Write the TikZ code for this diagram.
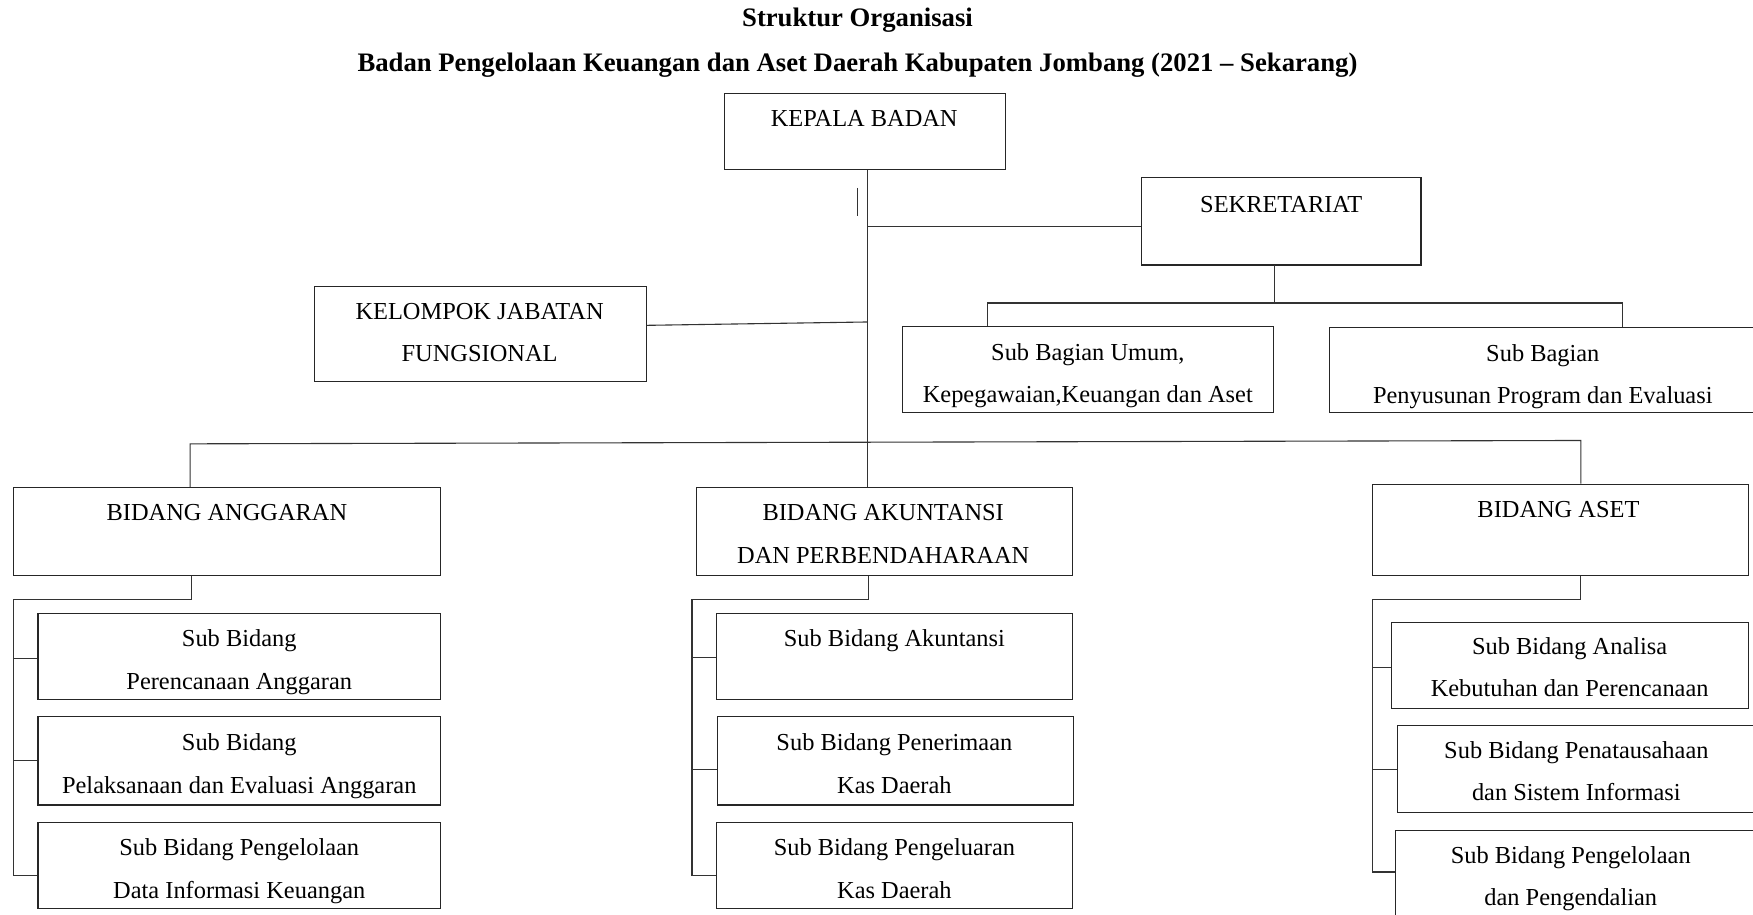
\documentclass[tikz,border=0pt]{standalone}
\usepackage{fontspec}
\setmainfont{Liberation Serif}
\newcommand\mkbox[5]{\node[box, minimum width={(#4-#2)*1.118pt}, minimum height={(#5-#3)*1.118pt}] (#1) at ({(#2+#4)/2},{(#3+#5)/2}) {};}
\tikzset{
  box/.style={draw=black!85, line width=1.1pt, inner sep=0pt, fill=none},
  txt/.style={font=\fontsize{24.4}{42.5}\selectfont, align=center, anchor=north, inner sep=0pt},
  ttl/.style={font=\fontsize{26.7}{30}\selectfont\bfseries, anchor=center, inner sep=0pt},
  ln/.style={draw=black!80, line width=1.1pt}
}
\begin{document}
\begin{tikzpicture}[x=1.118pt,y=-1.118pt]
\useasboundingbox[fill=white] (0,0) rectangle (1568,818);
% titles
\node[ttl] (t1) at (767,18) {Struktur Organisasi};
\node[ttl] (t2) at (767,58) {Badan Pengelolaan Keuangan dan Aset Daerah Kabupaten Jombang (2021 – Sekarang)};
% boxes
\mkbox{kepala}{648}{84}{899}{152}
\mkbox{sek}{1021}{159}{1271}{237}
\mkbox{kjf}{281}{256}{578}{341}
\mkbox{sbu}{807}{292}{1139}{369}
\mkbox{sbp}{1189}{293}{1571}{369}
\mkbox{ang}{12}{436}{394}{515}
\mkbox{ak}{623}{436}{959}{515}
\mkbox{aset}{1228}{433}{1564}{515}
\mkbox{a1}{34}{549}{394}{626}
\mkbox{a2}{34}{641}{394}{720}
\mkbox{a3}{34}{736}{394}{813}
\mkbox{k1}{641}{549}{959}{626}
\mkbox{k2}{642}{641}{960}{720}
\mkbox{k3}{641}{736}{959}{813}
\mkbox{s1}{1245}{557}{1564}{634}
\mkbox{s2}{1250}{649}{1571}{727}
\mkbox{s3}{1248}{743}{1571}{830}
% texts
\node[txt] (kepala-t) at (773,99) {KEPALA BADAN};
\node[txt] (sek-t) at (1146,175) {SEKRETARIAT};
\node[txt] (kjf-t) at (429,271) {KELOMPOK JABATAN\\FUNGSIONAL};
\node[txt] (sbu-t) at (973,307) {Sub Bagian Umum,\\Kepegawaian,Keuangan dan Aset};
\node[txt] (sbp-t) at (1380,308) {Sub Bagian\\Penyusunan Program dan Evaluasi};
\node[txt] (ang-t) at (203,451) {BIDANG ANGGARAN};
\node[txt] (ak-t) at (790,451) {BIDANG AKUNTANSI\\DAN PERBENDAHARAAN};
\node[txt] (aset-t) at (1394,448) {BIDANG ASET};
\node[txt] (a1-t) at (214,563) {Sub Bidang\\Perencanaan Anggaran};
\node[txt] (a2-t) at (214,656) {Sub Bidang\\Pelaksanaan dan Evaluasi Anggaran};
\node[txt] (a3-t) at (214,750) {Sub Bidang Pengelolaan\\Data Informasi Keuangan};
\node[txt] (k1-t) at (800,563) {Sub Bidang Akuntansi};
\node[txt] (k2-t) at (800,656) {Sub Bidang Penerimaan\\Kas Daerah};
\node[txt] (k3-t) at (800,750) {Sub Bidang Pengeluaran\\Kas Daerah};
\node[txt] (s1-t) at (1404,570) {Sub Bidang Analisa\\Kebutuhan dan Perencanaan};
\node[txt] (s2-t) at (1410,663) {Sub Bidang Penatausahaan\\dan Sistem Informasi};
\node[txt] (s3-t) at (1405,757) {Sub Bidang Pengelolaan\\dan Pengendalian};
% connector points
\coordinate (ktop) at (776,152);
\coordinate (tick1) at (767,168);
\coordinate (tick2) at (767,193);
\coordinate (jsek) at (776,203);
\coordinate (jkjf) at (776,288);
\coordinate (sdown) at (1140,237);
\coordinate (sbus) at (1140,271);
\coordinate (busL) at (883,271);
\coordinate (busR) at (1451,271);
\coordinate (bL) at (170,397);
\coordinate (bR) at (1414,394);
\coordinate (bmid) at (776,396);
% main trunk
\draw[ln] (ktop) -- (776,436);
\draw[ln] (tick1) -- (tick2);
\draw[ln] (jsek) -- (jsek -| sek.west);
\draw[ln] (sdown) -- (sbus);
\draw[ln] (busL |- sbu.north) -- (busL) -- (busR) -- (busR |- sbp.north);
\draw[ln] (kjf.east |- 0,291) -- (jkjf);
\draw[ln] (bL |- ang.north) -- (bL) -- (bR) -- (bR |- aset.north);
% anggaran
\coordinate (ad) at (171,536);
\draw[ln] (171,515) -- (ad) -- (12,536) -- (12,783) -- (12,783 -| a3.west);
\draw[ln] (12,589) -- (12,589 -| a1.west);
\draw[ln] (12,680) -- (12,680 -| a2.west);
% akuntansi
\coordinate (kd) at (777,536);
\draw[ln] (777,515) -- (kd) -- (619,536) -- (619,783) -- (619,783 -| k3.west);
\draw[ln] (619,588) -- (619,588 -| k1.west);
\draw[ln] (619,688) -- (619,688 -| k2.west);
% aset
\coordinate (sd) at (1414,536);
\draw[ln] (1414,515) -- (sd) -- (1228,536) -- (1228,780) -- (1228,780 -| s3.west);
\draw[ln] (1228,597) -- (1228,597 -| s1.west);
\draw[ln] (1228,688) -- (1228,688 -| s2.west);
\end{tikzpicture}
\end{document}
